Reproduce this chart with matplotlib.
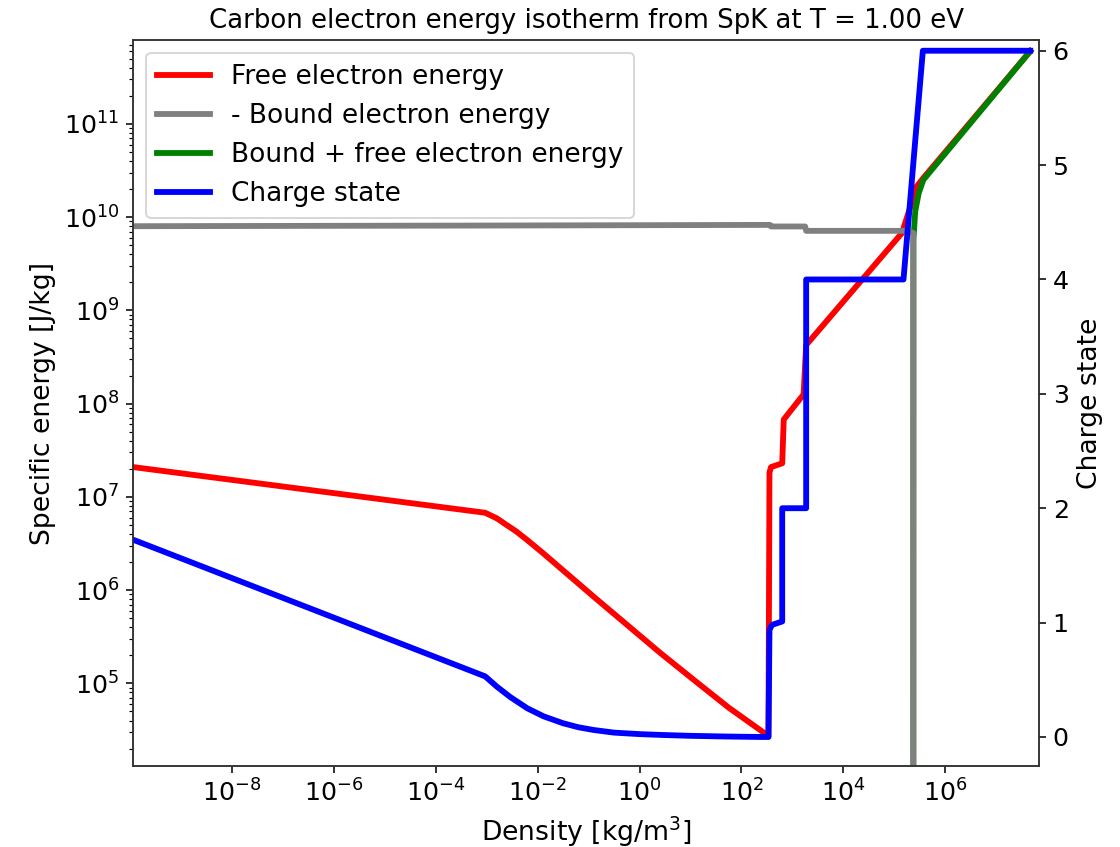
import numpy as np
import matplotlib
matplotlib.use("Agg")
import matplotlib.pyplot as plt

# ---- data (log10 values) ----
free_logx = [-9.94, -3.03, -2.80, -2.64, -2.42, -2.21, -1.90, -1.56, -0.90, -0.25, 0.40, 1.06, 1.75, 2.47, 2.53,
             2.55, 2.58, 2.80, 2.83, 3.22, 3.27, 3.35, 5.15, 5.38, 5.44, 5.57, 7.668]
free_logy = [7.32, 6.83, 6.77, 6.71, 6.63, 6.54, 6.40, 6.24, 5.93, 5.63, 5.33, 5.04, 4.74, 4.46, 4.43,
             7.26, 7.32, 7.36, 7.83, 8.10, 8.63, 8.68, 9.83, 10.22, 10.33, 10.42, 11.78]

bound_logx = [-9.94, -3.0, 2.56, 2.58, 3.25, 3.27, 5.18, 5.35, 5.372, 5.373]
bound_logy = [9.903, 9.91, 9.917, 9.90, 9.90, 9.853, 9.853, 9.835, 9.83, -5.0]

total_logx = [5.372, 5.375, 5.41, 5.48, 5.57, 7.668]
total_logy = [-5.0, 9.76, 10.06, 10.26, 10.40, 11.78]

charge_logx = [-9.94, -3.03, -2.80, -2.54, -2.20, -1.88, -1.50, -1.20, -0.90, -0.50, 0.0, 0.41,
               1.0, 1.7, 2.37, 2.53, 2.55, 2.60, 2.80, 2.80, 3.27, 3.27, 5.18, 5.56, 7.668]
charge_vals = [1.725, 0.53, 0.44, 0.35, 0.25, 0.18, 0.12, 0.085, 0.061, 0.038, 0.025, 0.018,
               0.010, 0.004, 0.0, 0.0, 0.937, 0.98, 1.01, 2.0, 2.0, 4.0, 4.0, 6.0, 6.0]

fig = plt.figure(figsize=(8, 6.05), dpi=140)
ax = fig.add_axes([0.1188, 0.0956, 0.8089, 0.8572])
ax2 = ax.twinx()

lw = 3
l1, = ax.plot(10 ** np.array(free_logx), 10 ** np.array(free_logy), color='red', lw=lw, zorder=2,
              label='Free electron energy')
l3, = ax.plot(10 ** np.array(total_logx), 10 ** np.array(total_logy), color='green', lw=lw, zorder=2.1,
              label='Bound + free electron energy')
l2, = ax.plot(10 ** np.array(bound_logx), 10 ** np.array(bound_logy), color='gray', lw=lw, zorder=2.2,
              label='- Bound electron energy')
l4, = ax2.plot(10 ** np.array(charge_logx), charge_vals, color='blue', lw=lw, label='Charge state')

ax.set_xscale('log')
ax.set_yscale('log')
ax.set_xlim(10 ** -9.94, 10 ** 7.84)
ax.set_ylim(10 ** 4.114, 10 ** 11.9)
ax2.set_ylim(-0.254, 6.094)

for a in (ax, ax2):
    a.tick_params(labelsize=13)
    for s in a.spines.values():
        s.set_color('#333333')
ax.set_xlabel('Density [kg/m$^3$]', fontsize=13.7)
ax.set_ylabel('Specific energy [J/kg]', fontsize=13.7)
ax2.set_ylabel('Charge state', fontsize=13.7)
ax.set_title('Carbon electron energy isotherm from SpK at T = 1.00 eV', fontsize=13.4)

ax2.legend([l1, l2, l3, l4], [h.get_label() for h in [l1, l2, l3, l4]],
           loc='upper left', fontsize=13.6)

fig.savefig('out.png', dpi=140)
